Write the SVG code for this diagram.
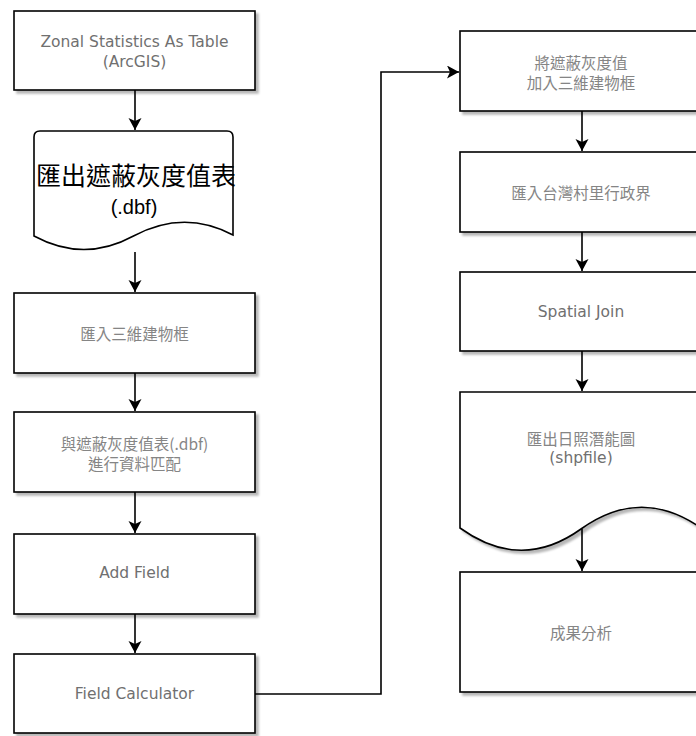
<svg xmlns="http://www.w3.org/2000/svg" width="696" height="736" viewBox="0 0 696 736">
<defs>
<filter id="sh" x="-10%" y="-10%" width="130%" height="130%">
<feGaussianBlur in="SourceAlpha" stdDeviation="0.8" result="b"/>
<feOffset in="b" dx="3" dy="3" result="o"/>
<feFlood flood-color="#000" flood-opacity="0.28"/>
<feComposite in2="o" operator="in" result="s"/>
<feMerge><feMergeNode in="s"/><feMergeNode in="SourceGraphic"/></feMerge>
</filter>
<marker id="arr" markerUnits="userSpaceOnUse" markerWidth="14" markerHeight="14" refX="12" refY="6.5" orient="auto">
<path d="M0,0 L12,6.5 L0,13 L3,6.5 Z" fill="#000"/>
</marker>
</defs>
<style>
.box{fill:#fff;stroke:#000;stroke-width:1.6}
.lat{font-family:"DejaVu Sans","Noto Sans CJK TC",sans-serif;font-size:15.5px;fill:#707070;text-anchor:middle;dominant-baseline:central}
.cjk{font-family:"Noto Sans CJK TC","DejaVu Sans",sans-serif;font-size:15.5px;fill:#858585;text-anchor:middle;dominant-baseline:central}
.big{font-family:"Liberation Sans","Noto Sans CJK TC",sans-serif;fill:#000;text-anchor:middle;dominant-baseline:central}
.con{fill:none;stroke:#000;stroke-width:1.6}
</style>
<rect width="696" height="736" fill="#fff"/>
<g id="connectors">
<path class="con" d="M135,90 V130" marker-end="url(#arr)"/>
<path class="con" d="M135,252 V292" marker-end="url(#arr)"/>
<path class="con" d="M135,373 V411" marker-end="url(#arr)"/>
<path class="con" d="M135,492 V533" marker-end="url(#arr)"/>
<path class="con" d="M135,614 V653" marker-end="url(#arr)"/>
<path class="con" d="M255,694 H381 V72 H459" marker-end="url(#arr)"/>
<path class="con" d="M582,111 V151" marker-end="url(#arr)"/>
<path class="con" d="M582,232 V271" marker-end="url(#arr)"/>
<path class="con" d="M582,351 V391" marker-end="url(#arr)"/>
<path class="con" d="M582,529 V571" marker-end="url(#arr)"/>
</g>
<g id="n1">
<rect class="box" x="14" y="11" width="241" height="79" filter="url(#sh)"/>
<text class="lat" x="134.5" y="41.5">Zonal Statistics As Table</text>
<text class="lat" x="134.5" y="62">(ArcGIS)</text>
</g>
<g id="n2">
<path class="box" d="M34,137 Q34,131 40,131 H227 Q233,131 233,137 V235 Q184,209 133.5,236 Q84,263 34,236 Z"/>
<text class="big" x="136" y="176" font-size="25">匯出遮蔽灰度值表</text>
<text class="big" x="134" y="207" font-size="20">(.dbf)</text>
</g>
<g id="n3">
<rect class="box" x="14" y="293" width="241" height="80" filter="url(#sh)"/>
<text class="cjk" x="134.5" y="333">匯入三維建物框</text>
</g>
<g id="n4">
<rect class="box" x="14" y="412" width="241" height="80" filter="url(#sh)"/>
<text class="cjk" x="134.5" y="443">與遮蔽灰度值表(.dbf)</text>
<text class="cjk" x="134.5" y="463">進行資料匹配</text>
</g>
<g id="n5">
<rect class="box" x="14" y="534" width="241" height="80" filter="url(#sh)"/>
<text class="lat" x="134.5" y="573">Add Field</text>
</g>
<g id="n6">
<rect class="box" x="14" y="654" width="241" height="79" filter="url(#sh)"/>
<text class="lat" x="134.5" y="694">Field Calculator</text>
</g>
<g id="n7">
<rect class="box" x="460" y="31" width="241" height="80" filter="url(#sh)"/>
<text class="cjk" x="581" y="62">將遮蔽灰度值</text>
<text class="cjk" x="581" y="82">加入三維建物框</text>
</g>
<g id="n8">
<rect class="box" x="460" y="152" width="241" height="80" filter="url(#sh)"/>
<text class="cjk" x="581" y="192">匯入台灣村里行政界</text>
</g>
<g id="n9">
<rect class="box" x="460" y="272" width="241" height="79" filter="url(#sh)"/>
<text class="lat" x="581" y="312">Spatial Join</text>
</g>
<g id="n10">
<path class="box" d="M460,392 H701 V528 Q641,486 581,529 Q521,572 460,528 Z" filter="url(#sh)"/>
<text class="cjk" x="581" y="438">匯出日照潛能圖</text>
<text class="lat" x="581" y="458">(shpfile)</text>
</g>
<g id="n11">
<rect class="box" x="460" y="572" width="241" height="120" filter="url(#sh)"/>
<text class="cjk" x="581" y="632">成果分析</text>
</g>
</svg>
